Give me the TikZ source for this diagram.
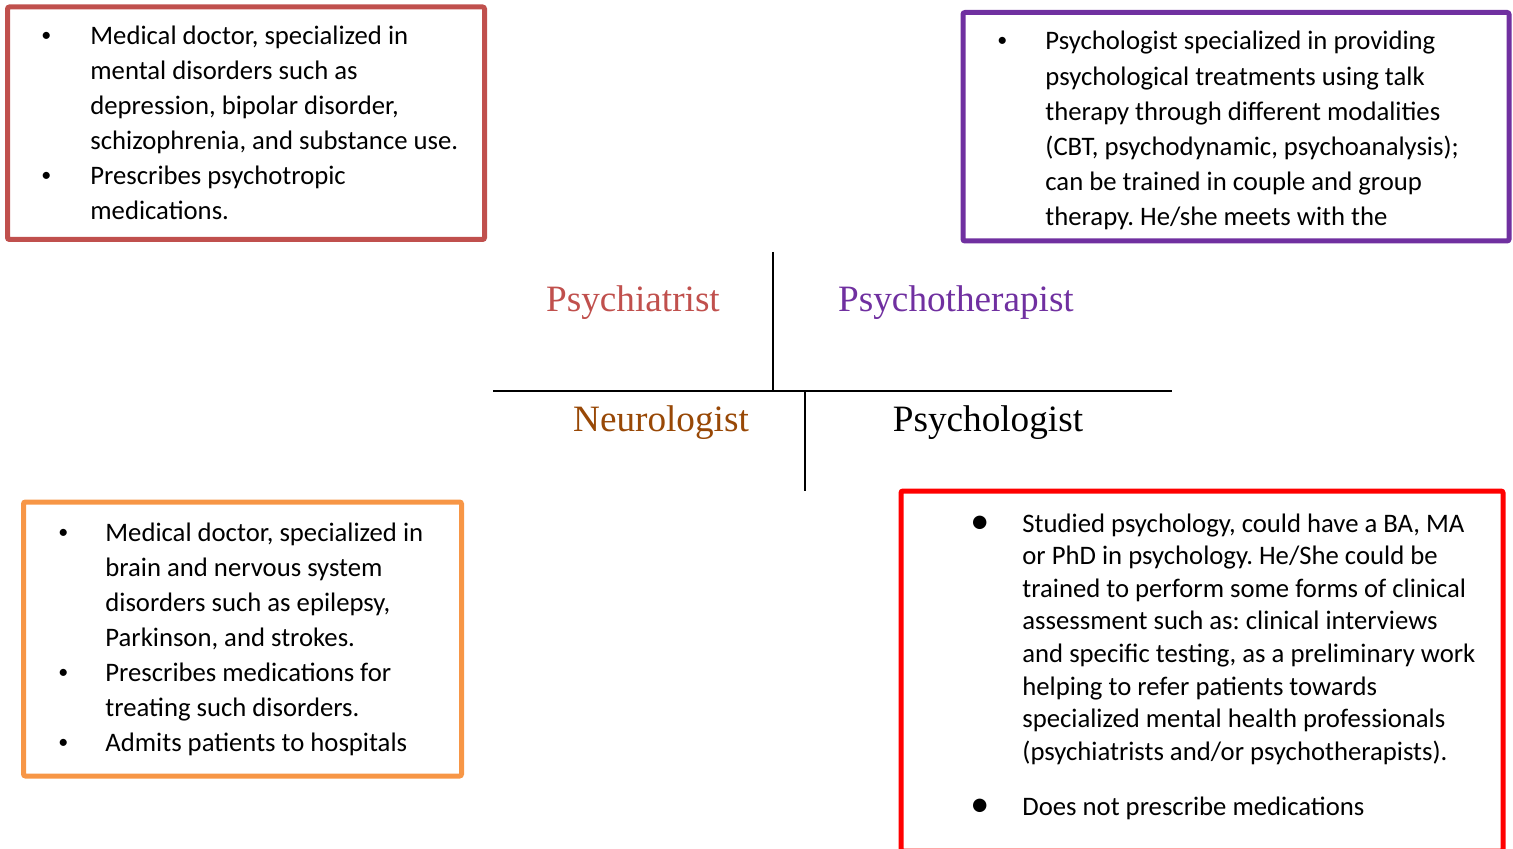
\documentclass[tikz,border=0pt]{standalone}
\usepackage{fontspec}
\setmainfont{Carlito}
\newfontfamily\titlefont{Liberation Serif}
\frenchspacing
\definecolor{psyred}{HTML}{C0504D}
\definecolor{psypurple}{HTML}{7030A0}
\definecolor{neuroorange}{HTML}{F79646}
\definecolor{neurobrown}{HTML}{984806}
\definecolor{brightred}{HTML}{FF0000}
\tikzset{
  frame/.style={draw=#1, line width=2.5pt, rounded corners=1pt},
  txt/.style={anchor=base west, inner sep=0pt, font=\fontsize{13.35}{16}\selectfont},
  bul/.style={anchor=base west, inner sep=0pt, font=\fontsize{10}{12}\selectfont},
  bigbul/.style={anchor=base west, inner sep=0pt, font=\fontsize{19}{20}\selectfont},
  ttl/.style={anchor=base, inner sep=0pt, font=\titlefont\fontsize{18.6}{20}\selectfont},
  divider/.style={line width=1pt, black}
}
\begin{document}
\begin{tikzpicture}[x=0.5pt, y=-0.5pt]
\useasboundingbox (0,0) rectangle (1513,849);
\clip (0,0) rectangle (1513,849);

% frames
\draw[frame=psyred] (7.5,7) rectangle (484.5,239.5);
\draw[frame=psypurple] (963,12.5) rectangle (1509,241);
\draw[frame=neuroorange] (23.5,502) rectangle (461.5,776);
\draw[frame=brightred] (901,491) rectangle (1503,851);

% box 1 : psychiatrist
\node[bul] (b1a) at (41,42) {•};
\node[bul] (b1b) at (41,182) {•};
\foreach \t [count=\i] in {{Medical doctor, specialized in},{mental disorders such as},{depression, bipolar disorder,},{schizophrenia, and substance use.},{Prescribes psychotropic},{medications.}}
  \node[txt] (t1\i) at (90,{45+35*(\i-1)}) {\t};

% box 2 : psychotherapist
\node[bul] (b2a) at (997,47) {•};
\foreach \t [count=\i] in {{Psychologist specialized in providing},{psychological treatments using talk},{therapy through different modalities},{(CBT, psychodynamic, psychoanalysis);},{can be trained in couple and group},{therapy. He/she meets with the}}
  \node[txt] (t2\i) at (1045,{50+35.2*(\i-1)}) {\t};

% box 3 : neurologist
\node[bul] (b3a) at (58,538) {•};
\node[bul] (b3b) at (58,678) {•};
\node[bul] (b3c) at (58,748) {•};
\foreach \t [count=\i] in {{Medical doctor, specialized in},{brain and nervous system},{disorders such as epilepsy,},{Parkinson, and strokes.},{Prescribes medications for},{treating such disorders.},{Admits patients to hospitals}}
  \node[txt] (t3\i) at (105,{541+35*(\i-1)}) {\t};

% box 4 : psychologist
\node[bigbul] (b4a) at (970,533) {•};
\node[bigbul] (b4b) at (970,816) {•};
\foreach \t [count=\i] in {{Studied psychology, could have a BA, MA},{or PhD in psychology. He/She could be},{trained to perform some forms of clinical},{assessment such as: clinical interviews},{and specific testing, as a preliminary work},{helping to refer patients towards},{specialized mental health professionals},{(psychiatrists and/or psychotherapists).}}
  \node[txt] (t4\i) at (1022,{532+32.6*(\i-1)}) {\t};
\node[txt] (t49) at (1022,815) {Does not prescribe medications};

% titles
\node[ttl, text=psyred] (psychiatrist) at (633,312) {Psychiatrist};
\node[ttl, text=psypurple] (psychotherapist) at (956,312) {Psychotherapist};
\node[ttl, text=neurobrown] (neurologist) at (661,431) {Neurologist};
\node[ttl] (psychologist) at (988,431) {Psychologist};

% dividers
\coordinate (vtop) at (773,252);
\coordinate (vmid) at (773,391);
\coordinate (hl) at (493,391);
\coordinate (hr) at (1172,391);
\coordinate (v2top) at (805,391);
\coordinate (v2bot) at (805,491);
\draw[divider] (vtop) -- (vmid);
\draw[divider] (hl) -- (hr);
\draw[divider] (v2top) -- (v2bot);
\end{tikzpicture}
\end{document}
